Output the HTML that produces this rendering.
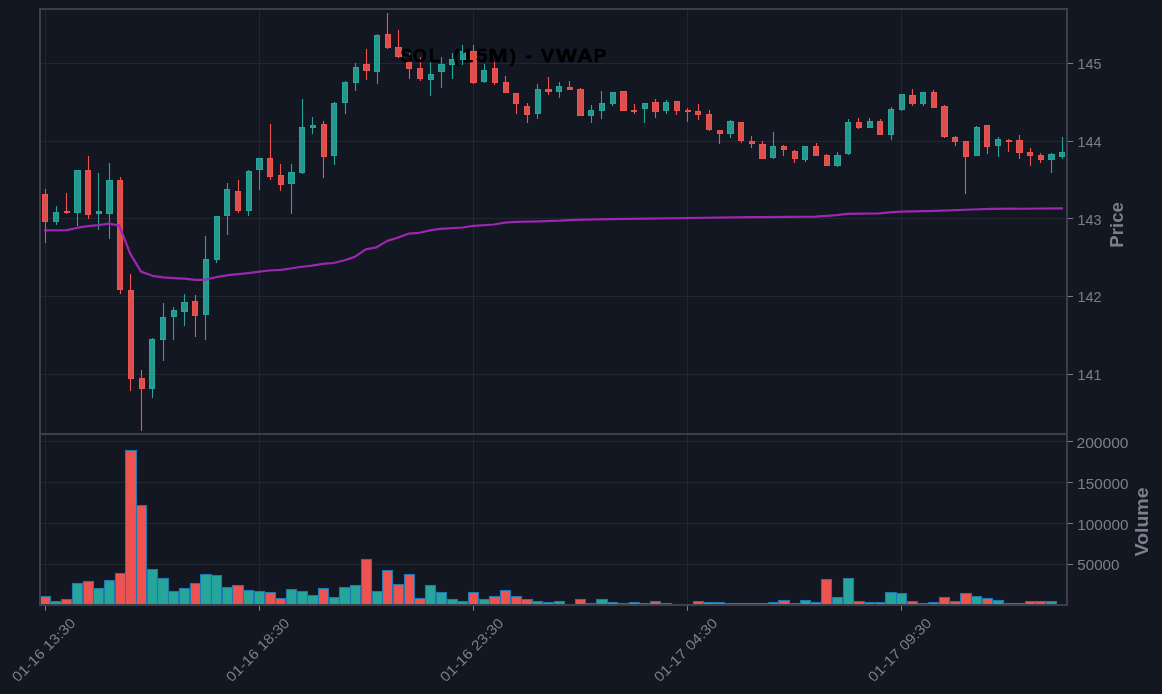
<!DOCTYPE html>
<html><head><meta charset="utf-8"><style>
html,body{margin:0;padding:0;background:#131722;width:1162px;height:694px;overflow:hidden;font-family:"Liberation Sans",sans-serif;}
svg{display:block}
</style></head><body>
<svg width="1162" height="694" viewBox="0 0 1162 694" style="will-change:transform"><rect x="0" y="0" width="1162" height="694" fill="#131722"/><path d="M45.5 10V433M45.5 435V604M259.5 10V433M259.5 435V604M473.5 10V433M473.5 435V604M687.5 10V433M687.5 435V604M901.5 10V433M901.5 435V604M41 63.5H1066M41 141.5H1066M41 218.5H1066M41 296.5H1066M41 374.5H1066M41 441.5H1066M41 482.5H1066M41 523.5H1066M41 564.5H1066" stroke="#22262f" stroke-width="1" fill="none"/><g><rect x="40.5" y="596.5" width="10" height="8.5" fill="#ef5350" stroke="#1f77b4" stroke-width="1.1"/><rect x="50.5" y="601.5" width="11" height="3.5" fill="#26a69a" stroke="#1f77b4" stroke-width="1.1"/><rect x="61.5" y="599.5" width="10" height="5.5" fill="#ef5350" stroke="#1f77b4" stroke-width="1.1"/><rect x="72.5" y="583.5" width="10" height="21.5" fill="#26a69a" stroke="#1f77b4" stroke-width="1.1"/><rect x="83.5" y="581.5" width="10" height="23.5" fill="#ef5350" stroke="#1f77b4" stroke-width="1.1"/><rect x="93.5" y="588.5" width="10" height="16.5" fill="#26a69a" stroke="#1f77b4" stroke-width="1.1"/><rect x="104.5" y="580.5" width="10" height="24.5" fill="#26a69a" stroke="#1f77b4" stroke-width="1.1"/><rect x="115.5" y="573.5" width="10" height="31.5" fill="#ef5350" stroke="#1f77b4" stroke-width="1.1"/><rect x="125.5" y="450.5" width="11" height="154.5" fill="#ef5350" stroke="#1f77b4" stroke-width="1.1"/><rect x="136.5" y="505.5" width="10" height="99.5" fill="#ef5350" stroke="#1f77b4" stroke-width="1.1"/><rect x="147.5" y="569.5" width="10" height="35.5" fill="#26a69a" stroke="#1f77b4" stroke-width="1.1"/><rect x="157.5" y="578.5" width="11" height="26.5" fill="#26a69a" stroke="#1f77b4" stroke-width="1.1"/><rect x="168.5" y="591.5" width="10" height="13.5" fill="#26a69a" stroke="#1f77b4" stroke-width="1.1"/><rect x="179.5" y="588.5" width="10" height="16.5" fill="#26a69a" stroke="#1f77b4" stroke-width="1.1"/><rect x="190.5" y="583.5" width="10" height="21.5" fill="#ef5350" stroke="#1f77b4" stroke-width="1.1"/><rect x="200.5" y="574.5" width="11" height="30.5" fill="#26a69a" stroke="#1f77b4" stroke-width="1.1"/><rect x="211.5" y="575.5" width="10" height="29.5" fill="#26a69a" stroke="#1f77b4" stroke-width="1.1"/><rect x="222.5" y="587.5" width="10" height="17.5" fill="#26a69a" stroke="#1f77b4" stroke-width="1.1"/><rect x="232.5" y="585.5" width="11" height="19.5" fill="#ef5350" stroke="#1f77b4" stroke-width="1.1"/><rect x="243.5" y="590.5" width="10" height="14.5" fill="#26a69a" stroke="#1f77b4" stroke-width="1.1"/><rect x="254.5" y="591.5" width="10" height="13.5" fill="#26a69a" stroke="#1f77b4" stroke-width="1.1"/><rect x="265.5" y="592.5" width="10" height="12.5" fill="#ef5350" stroke="#1f77b4" stroke-width="1.1"/><rect x="275.5" y="598.5" width="10" height="6.5" fill="#ef5350" stroke="#1f77b4" stroke-width="1.1"/><rect x="286.5" y="589.5" width="10" height="15.5" fill="#26a69a" stroke="#1f77b4" stroke-width="1.1"/><rect x="297.5" y="591.5" width="10" height="13.5" fill="#26a69a" stroke="#1f77b4" stroke-width="1.1"/><rect x="307.5" y="595.5" width="11" height="9.5" fill="#26a69a" stroke="#1f77b4" stroke-width="1.1"/><rect x="318.5" y="588.5" width="10" height="16.5" fill="#ef5350" stroke="#1f77b4" stroke-width="1.1"/><rect x="329.5" y="597.5" width="10" height="7.5" fill="#26a69a" stroke="#1f77b4" stroke-width="1.1"/><rect x="339.5" y="587.5" width="11" height="17.5" fill="#26a69a" stroke="#1f77b4" stroke-width="1.1"/><rect x="350.5" y="585.5" width="10" height="19.5" fill="#26a69a" stroke="#1f77b4" stroke-width="1.1"/><rect x="361.5" y="559.5" width="10" height="45.5" fill="#ef5350" stroke="#1f77b4" stroke-width="1.1"/><rect x="372.5" y="591.5" width="10" height="13.5" fill="#26a69a" stroke="#1f77b4" stroke-width="1.1"/><rect x="382.5" y="570.5" width="10" height="34.5" fill="#ef5350" stroke="#1f77b4" stroke-width="1.1"/><rect x="393.5" y="584.5" width="10" height="20.5" fill="#ef5350" stroke="#1f77b4" stroke-width="1.1"/><rect x="404.5" y="574.5" width="10" height="30.5" fill="#ef5350" stroke="#1f77b4" stroke-width="1.1"/><rect x="414.5" y="598.5" width="11" height="6.5" fill="#ef5350" stroke="#1f77b4" stroke-width="1.1"/><rect x="425.5" y="585.5" width="10" height="19.5" fill="#26a69a" stroke="#1f77b4" stroke-width="1.1"/><rect x="436.5" y="592.5" width="10" height="12.5" fill="#26a69a" stroke="#1f77b4" stroke-width="1.1"/><rect x="447.5" y="599.5" width="10" height="5.5" fill="#26a69a" stroke="#1f77b4" stroke-width="1.1"/><rect x="457.5" y="601.5" width="10" height="3.5" fill="#26a69a" stroke="#1f77b4" stroke-width="1.1"/><rect x="468.5" y="592.5" width="10" height="12.5" fill="#ef5350" stroke="#1f77b4" stroke-width="1.1"/><rect x="479.5" y="599.5" width="10" height="5.5" fill="#26a69a" stroke="#1f77b4" stroke-width="1.1"/><rect x="489.5" y="596.5" width="11" height="8.5" fill="#ef5350" stroke="#1f77b4" stroke-width="1.1"/><rect x="500.5" y="590.5" width="10" height="14.5" fill="#ef5350" stroke="#1f77b4" stroke-width="1.1"/><rect x="511.5" y="596.5" width="10" height="8.5" fill="#ef5350" stroke="#1f77b4" stroke-width="1.1"/><rect x="521.5" y="599.5" width="11" height="5.5" fill="#ef5350" stroke="#1f77b4" stroke-width="1.1"/><rect x="532.5" y="601.5" width="10" height="3.5" fill="#26a69a" stroke="#1f77b4" stroke-width="1.1"/><rect x="543.5" y="602.5" width="10" height="2.5" fill="#ef5350" stroke="#1f77b4" stroke-width="1.1"/><rect x="554.5" y="601.5" width="10" height="3.5" fill="#26a69a" stroke="#1f77b4" stroke-width="1.1"/><rect x="564.5" y="604.5" width="10" height="0.5" fill="#ef5350" stroke="#1f77b4" stroke-width="1.1"/><rect x="575.5" y="599.5" width="10" height="5.5" fill="#ef5350" stroke="#1f77b4" stroke-width="1.1"/><rect x="586.5" y="603.5" width="10" height="1.5" fill="#26a69a" stroke="#1f77b4" stroke-width="1.1"/><rect x="596.5" y="599.5" width="11" height="5.5" fill="#26a69a" stroke="#1f77b4" stroke-width="1.1"/><rect x="607.5" y="602.5" width="10" height="2.5" fill="#26a69a" stroke="#1f77b4" stroke-width="1.1"/><rect x="618.5" y="603.5" width="10" height="1.5" fill="#ef5350" stroke="#1f77b4" stroke-width="1.1"/><rect x="629.5" y="602.5" width="10" height="2.5" fill="#ef5350" stroke="#1f77b4" stroke-width="1.1"/><rect x="639.5" y="603.5" width="10" height="1.5" fill="#26a69a" stroke="#1f77b4" stroke-width="1.1"/><rect x="650.5" y="601.5" width="10" height="3.5" fill="#ef5350" stroke="#1f77b4" stroke-width="1.1"/><rect x="661.5" y="603.5" width="10" height="1.5" fill="#26a69a" stroke="#1f77b4" stroke-width="1.1"/><rect x="671.5" y="604.5" width="11" height="0.5" fill="#ef5350" stroke="#1f77b4" stroke-width="1.1"/><rect x="682.5" y="604.5" width="10" height="0.5" fill="#ef5350" stroke="#1f77b4" stroke-width="1.1"/><rect x="693.5" y="601.5" width="10" height="3.5" fill="#ef5350" stroke="#1f77b4" stroke-width="1.1"/><rect x="703.5" y="602.5" width="11" height="2.5" fill="#ef5350" stroke="#1f77b4" stroke-width="1.1"/><rect x="714.5" y="602.5" width="10" height="2.5" fill="#ef5350" stroke="#1f77b4" stroke-width="1.1"/><rect x="725.5" y="603.5" width="10" height="1.5" fill="#26a69a" stroke="#1f77b4" stroke-width="1.1"/><rect x="736.5" y="603.5" width="10" height="1.5" fill="#ef5350" stroke="#1f77b4" stroke-width="1.1"/><rect x="746.5" y="603.5" width="10" height="1.5" fill="#ef5350" stroke="#1f77b4" stroke-width="1.1"/><rect x="757.5" y="603.5" width="10" height="1.5" fill="#ef5350" stroke="#1f77b4" stroke-width="1.1"/><rect x="768.5" y="602.5" width="10" height="2.5" fill="#26a69a" stroke="#1f77b4" stroke-width="1.1"/><rect x="778.5" y="600.5" width="11" height="4.5" fill="#ef5350" stroke="#1f77b4" stroke-width="1.1"/><rect x="789.5" y="603.5" width="10" height="1.5" fill="#ef5350" stroke="#1f77b4" stroke-width="1.1"/><rect x="800.5" y="600.5" width="10" height="4.5" fill="#26a69a" stroke="#1f77b4" stroke-width="1.1"/><rect x="810.5" y="602.5" width="11" height="2.5" fill="#ef5350" stroke="#1f77b4" stroke-width="1.1"/><rect x="821.5" y="579.5" width="10" height="25.5" fill="#ef5350" stroke="#1f77b4" stroke-width="1.1"/><rect x="832.5" y="597.5" width="10" height="7.5" fill="#26a69a" stroke="#1f77b4" stroke-width="1.1"/><rect x="843.5" y="578.5" width="10" height="26.5" fill="#26a69a" stroke="#1f77b4" stroke-width="1.1"/><rect x="853.5" y="601.5" width="11" height="3.5" fill="#ef5350" stroke="#1f77b4" stroke-width="1.1"/><rect x="864.5" y="602.5" width="10" height="2.5" fill="#26a69a" stroke="#1f77b4" stroke-width="1.1"/><rect x="875.5" y="602.5" width="10" height="2.5" fill="#ef5350" stroke="#1f77b4" stroke-width="1.1"/><rect x="885.5" y="592.5" width="11" height="12.5" fill="#26a69a" stroke="#1f77b4" stroke-width="1.1"/><rect x="896.5" y="593.5" width="10" height="11.5" fill="#26a69a" stroke="#1f77b4" stroke-width="1.1"/><rect x="907.5" y="601.5" width="10" height="3.5" fill="#ef5350" stroke="#1f77b4" stroke-width="1.1"/><rect x="918.5" y="603.5" width="10" height="1.5" fill="#26a69a" stroke="#1f77b4" stroke-width="1.1"/><rect x="928.5" y="602.5" width="10" height="2.5" fill="#ef5350" stroke="#1f77b4" stroke-width="1.1"/><rect x="939.5" y="597.5" width="10" height="7.5" fill="#ef5350" stroke="#1f77b4" stroke-width="1.1"/><rect x="950.5" y="601.5" width="10" height="3.5" fill="#ef5350" stroke="#1f77b4" stroke-width="1.1"/><rect x="960.5" y="593.5" width="11" height="11.5" fill="#ef5350" stroke="#1f77b4" stroke-width="1.1"/><rect x="971.5" y="596.5" width="10" height="8.5" fill="#26a69a" stroke="#1f77b4" stroke-width="1.1"/><rect x="982.5" y="598.5" width="10" height="6.5" fill="#ef5350" stroke="#1f77b4" stroke-width="1.1"/><rect x="992.5" y="600.5" width="11" height="4.5" fill="#26a69a" stroke="#1f77b4" stroke-width="1.1"/><rect x="1003.5" y="603.5" width="10" height="1.5" fill="#ef5350" stroke="#1f77b4" stroke-width="1.1"/><rect x="1014.5" y="603.5" width="10" height="1.5" fill="#ef5350" stroke="#1f77b4" stroke-width="1.1"/><rect x="1025.5" y="601.5" width="10" height="3.5" fill="#ef5350" stroke="#1f77b4" stroke-width="1.1"/><rect x="1035.5" y="601.5" width="10" height="3.5" fill="#ef5350" stroke="#1f77b4" stroke-width="1.1"/><rect x="1046.5" y="601.5" width="10" height="3.5" fill="#26a69a" stroke="#1f77b4" stroke-width="1.1"/></g><g><path d="M45.5 189V243" stroke="#ef5350" stroke-width="1.1"/><rect x="42.5" y="194.5" width="5" height="27" fill="#dc4f4d" stroke="#ef5350" stroke-width="1"/><path d="M56.5 206V225" stroke="#26a69a" stroke-width="1.1"/><rect x="53.5" y="212.5" width="5" height="9" fill="#24988e" stroke="#26a69a" stroke-width="1"/><path d="M66.5 193V214" stroke="#ef5350" stroke-width="1.1"/><rect x="64.5" y="211.5" width="5" height="1" fill="#dc4f4d" stroke="#ef5350" stroke-width="1"/><path d="M77.5 170V226" stroke="#26a69a" stroke-width="1.1"/><rect x="74.5" y="170.5" width="6" height="42" fill="#24988e" stroke="#26a69a" stroke-width="1"/><path d="M88.5 156V219" stroke="#ef5350" stroke-width="1.1"/><rect x="85.5" y="170.5" width="5" height="44" fill="#dc4f4d" stroke="#ef5350" stroke-width="1"/><path d="M98.5 173V230" stroke="#26a69a" stroke-width="1.1"/><rect x="96.5" y="211.5" width="5" height="2" fill="#24988e" stroke="#26a69a" stroke-width="1"/><path d="M109.5 163V239" stroke="#26a69a" stroke-width="1.1"/><rect x="106.5" y="180.5" width="6" height="33" fill="#24988e" stroke="#26a69a" stroke-width="1"/><path d="M120.5 177V294" stroke="#ef5350" stroke-width="1.1"/><rect x="117.5" y="180.5" width="5" height="109" fill="#dc4f4d" stroke="#ef5350" stroke-width="1"/><path d="M130.5 274V391" stroke="#ef5350" stroke-width="1.1"/><rect x="128.5" y="290.5" width="5" height="88" fill="#dc4f4d" stroke="#ef5350" stroke-width="1"/><path d="M141.5 370V431" stroke="#ef5350" stroke-width="1.1"/><rect x="139.5" y="378.5" width="5" height="10" fill="#dc4f4d" stroke="#ef5350" stroke-width="1"/><path d="M152.5 338V398" stroke="#26a69a" stroke-width="1.1"/><rect x="149.5" y="339.5" width="5" height="49" fill="#24988e" stroke="#26a69a" stroke-width="1"/><path d="M163.5 303V361" stroke="#26a69a" stroke-width="1.1"/><rect x="160.5" y="317.5" width="5" height="22" fill="#24988e" stroke="#26a69a" stroke-width="1"/><path d="M173.5 307V340" stroke="#26a69a" stroke-width="1.1"/><rect x="171.5" y="310.5" width="5" height="6" fill="#24988e" stroke="#26a69a" stroke-width="1"/><path d="M184.5 294V326" stroke="#26a69a" stroke-width="1.1"/><rect x="181.5" y="302.5" width="6" height="9" fill="#24988e" stroke="#26a69a" stroke-width="1"/><path d="M195.5 295V337" stroke="#ef5350" stroke-width="1.1"/><rect x="192.5" y="301.5" width="5" height="14" fill="#dc4f4d" stroke="#ef5350" stroke-width="1"/><path d="M205.5 236V340" stroke="#26a69a" stroke-width="1.1"/><rect x="203.5" y="259.5" width="5" height="55" fill="#24988e" stroke="#26a69a" stroke-width="1"/><path d="M216.5 216V263" stroke="#26a69a" stroke-width="1.1"/><rect x="214.5" y="216.5" width="5" height="43" fill="#24988e" stroke="#26a69a" stroke-width="1"/><path d="M227.5 183V235" stroke="#26a69a" stroke-width="1.1"/><rect x="224.5" y="189.5" width="5" height="26" fill="#24988e" stroke="#26a69a" stroke-width="1"/><path d="M238.5 180V213" stroke="#ef5350" stroke-width="1.1"/><rect x="235.5" y="191.5" width="5" height="19" fill="#dc4f4d" stroke="#ef5350" stroke-width="1"/><path d="M248.5 170V216" stroke="#26a69a" stroke-width="1.1"/><rect x="246.5" y="171.5" width="5" height="39" fill="#24988e" stroke="#26a69a" stroke-width="1"/><path d="M259.5 158V190" stroke="#26a69a" stroke-width="1.1"/><rect x="256.5" y="158.5" width="6" height="11" fill="#24988e" stroke="#26a69a" stroke-width="1"/><path d="M270.5 124V180" stroke="#ef5350" stroke-width="1.1"/><rect x="267.5" y="158.5" width="5" height="18" fill="#dc4f4d" stroke="#ef5350" stroke-width="1"/><path d="M280.5 164V191" stroke="#ef5350" stroke-width="1.1"/><rect x="278.5" y="175.5" width="5" height="9" fill="#dc4f4d" stroke="#ef5350" stroke-width="1"/><path d="M291.5 164V214" stroke="#26a69a" stroke-width="1.1"/><rect x="288.5" y="172.5" width="6" height="11" fill="#24988e" stroke="#26a69a" stroke-width="1"/><path d="M302.5 99V174" stroke="#26a69a" stroke-width="1.1"/><rect x="299.5" y="127.5" width="5" height="45" fill="#24988e" stroke="#26a69a" stroke-width="1"/><path d="M312.5 117V134" stroke="#26a69a" stroke-width="1.1"/><rect x="310.5" y="125.5" width="5" height="2" fill="#24988e" stroke="#26a69a" stroke-width="1"/><path d="M323.5 121V178" stroke="#ef5350" stroke-width="1.1"/><rect x="321.5" y="124.5" width="5" height="32" fill="#dc4f4d" stroke="#ef5350" stroke-width="1"/><path d="M334.5 102V165" stroke="#26a69a" stroke-width="1.1"/><rect x="331.5" y="103.5" width="5" height="52" fill="#24988e" stroke="#26a69a" stroke-width="1"/><path d="M345.5 81V114" stroke="#26a69a" stroke-width="1.1"/><rect x="342.5" y="82.5" width="5" height="20" fill="#24988e" stroke="#26a69a" stroke-width="1"/><path d="M355.5 63V91" stroke="#26a69a" stroke-width="1.1"/><rect x="353.5" y="67.5" width="5" height="15" fill="#24988e" stroke="#26a69a" stroke-width="1"/><path d="M366.5 49V80" stroke="#ef5350" stroke-width="1.1"/><rect x="363.5" y="64.5" width="6" height="6" fill="#dc4f4d" stroke="#ef5350" stroke-width="1"/><path d="M377.5 34V84" stroke="#26a69a" stroke-width="1.1"/><rect x="374.5" y="35.5" width="5" height="36" fill="#24988e" stroke="#26a69a" stroke-width="1"/><path d="M387.5 13V49" stroke="#ef5350" stroke-width="1.1"/><rect x="385.5" y="34.5" width="5" height="13" fill="#dc4f4d" stroke="#ef5350" stroke-width="1"/><path d="M398.5 30V58" stroke="#ef5350" stroke-width="1.1"/><rect x="395.5" y="47.5" width="6" height="9" fill="#dc4f4d" stroke="#ef5350" stroke-width="1"/><path d="M409.5 51V79" stroke="#ef5350" stroke-width="1.1"/><rect x="406.5" y="62.5" width="5" height="6" fill="#dc4f4d" stroke="#ef5350" stroke-width="1"/><path d="M420.5 57V81" stroke="#ef5350" stroke-width="1.1"/><rect x="417.5" y="68.5" width="5" height="10" fill="#dc4f4d" stroke="#ef5350" stroke-width="1"/><path d="M430.5 62V96" stroke="#26a69a" stroke-width="1.1"/><rect x="428.5" y="74.5" width="5" height="5" fill="#24988e" stroke="#26a69a" stroke-width="1"/><path d="M441.5 57V88" stroke="#26a69a" stroke-width="1.1"/><rect x="438.5" y="64.5" width="6" height="7" fill="#24988e" stroke="#26a69a" stroke-width="1"/><path d="M452.5 53V79" stroke="#26a69a" stroke-width="1.1"/><rect x="449.5" y="59.5" width="5" height="5" fill="#24988e" stroke="#26a69a" stroke-width="1"/><path d="M462.5 45V65" stroke="#26a69a" stroke-width="1.1"/><rect x="460.5" y="51.5" width="5" height="8" fill="#24988e" stroke="#26a69a" stroke-width="1"/><path d="M473.5 45V84" stroke="#ef5350" stroke-width="1.1"/><rect x="470.5" y="51.5" width="6" height="31" fill="#dc4f4d" stroke="#ef5350" stroke-width="1"/><path d="M484.5 64V83" stroke="#26a69a" stroke-width="1.1"/><rect x="481.5" y="70.5" width="5" height="11" fill="#24988e" stroke="#26a69a" stroke-width="1"/><path d="M494.5 62V85" stroke="#ef5350" stroke-width="1.1"/><rect x="492.5" y="68.5" width="5" height="14" fill="#dc4f4d" stroke="#ef5350" stroke-width="1"/><path d="M505.5 76V93" stroke="#ef5350" stroke-width="1.1"/><rect x="503.5" y="82.5" width="5" height="10" fill="#dc4f4d" stroke="#ef5350" stroke-width="1"/><path d="M516.5 93V114" stroke="#ef5350" stroke-width="1.1"/><rect x="513.5" y="93.5" width="5" height="10" fill="#dc4f4d" stroke="#ef5350" stroke-width="1"/><path d="M527.5 103V123" stroke="#ef5350" stroke-width="1.1"/><rect x="524.5" y="106.5" width="5" height="8" fill="#dc4f4d" stroke="#ef5350" stroke-width="1"/><path d="M537.5 84V119" stroke="#26a69a" stroke-width="1.1"/><rect x="535.5" y="89.5" width="5" height="24" fill="#24988e" stroke="#26a69a" stroke-width="1"/><path d="M548.5 77V95" stroke="#ef5350" stroke-width="1.1"/><rect x="545.5" y="89.5" width="6" height="2" fill="#dc4f4d" stroke="#ef5350" stroke-width="1"/><path d="M559.5 82V98" stroke="#26a69a" stroke-width="1.1"/><rect x="556.5" y="86.5" width="5" height="5" fill="#24988e" stroke="#26a69a" stroke-width="1"/><path d="M569.5 81V90" stroke="#ef5350" stroke-width="1.1"/><rect x="567.5" y="87.5" width="5" height="2" fill="#dc4f4d" stroke="#ef5350" stroke-width="1"/><path d="M580.5 88V116" stroke="#ef5350" stroke-width="1.1"/><rect x="577.5" y="89.5" width="6" height="26" fill="#dc4f4d" stroke="#ef5350" stroke-width="1"/><path d="M591.5 105V123" stroke="#26a69a" stroke-width="1.1"/><rect x="588.5" y="110.5" width="5" height="5" fill="#24988e" stroke="#26a69a" stroke-width="1"/><path d="M601.5 91V119" stroke="#26a69a" stroke-width="1.1"/><rect x="599.5" y="103.5" width="5" height="7" fill="#24988e" stroke="#26a69a" stroke-width="1"/><path d="M612.5 92V106" stroke="#26a69a" stroke-width="1.1"/><rect x="610.5" y="92.5" width="5" height="11" fill="#24988e" stroke="#26a69a" stroke-width="1"/><path d="M623.5 91V111" stroke="#ef5350" stroke-width="1.1"/><rect x="620.5" y="91.5" width="6" height="19" fill="#dc4f4d" stroke="#ef5350" stroke-width="1"/><path d="M634.5 104V114" stroke="#ef5350" stroke-width="1.1"/><rect x="631.5" y="110.5" width="5" height="1" fill="#dc4f4d" stroke="#ef5350" stroke-width="1"/><path d="M644.5 103V123" stroke="#26a69a" stroke-width="1.1"/><rect x="642.5" y="103.5" width="5" height="5" fill="#24988e" stroke="#26a69a" stroke-width="1"/><path d="M655.5 99V118" stroke="#ef5350" stroke-width="1.1"/><rect x="652.5" y="102.5" width="6" height="9" fill="#dc4f4d" stroke="#ef5350" stroke-width="1"/><path d="M666.5 100V114" stroke="#26a69a" stroke-width="1.1"/><rect x="663.5" y="102.5" width="5" height="8" fill="#24988e" stroke="#26a69a" stroke-width="1"/><path d="M676.5 101V115" stroke="#ef5350" stroke-width="1.1"/><rect x="674.5" y="101.5" width="5" height="9" fill="#dc4f4d" stroke="#ef5350" stroke-width="1"/><path d="M687.5 108V122" stroke="#ef5350" stroke-width="1.1"/><rect x="685.5" y="110.5" width="5" height="1" fill="#dc4f4d" stroke="#ef5350" stroke-width="1"/><path d="M698.5 104V120" stroke="#ef5350" stroke-width="1.1"/><rect x="695.5" y="111.5" width="5" height="3" fill="#dc4f4d" stroke="#ef5350" stroke-width="1"/><path d="M709.5 110V131" stroke="#ef5350" stroke-width="1.1"/><rect x="706.5" y="114.5" width="5" height="15" fill="#dc4f4d" stroke="#ef5350" stroke-width="1"/><path d="M719.5 130V144" stroke="#ef5350" stroke-width="1.1"/><rect x="717.5" y="130.5" width="5" height="3" fill="#dc4f4d" stroke="#ef5350" stroke-width="1"/><path d="M730.5 120V138" stroke="#26a69a" stroke-width="1.1"/><rect x="727.5" y="121.5" width="6" height="12" fill="#24988e" stroke="#26a69a" stroke-width="1"/><path d="M741.5 122V143" stroke="#ef5350" stroke-width="1.1"/><rect x="738.5" y="122.5" width="5" height="18" fill="#dc4f4d" stroke="#ef5350" stroke-width="1"/><path d="M751.5 136V148" stroke="#ef5350" stroke-width="1.1"/><rect x="749.5" y="141.5" width="5" height="2" fill="#dc4f4d" stroke="#ef5350" stroke-width="1"/><path d="M762.5 141V159" stroke="#ef5350" stroke-width="1.1"/><rect x="759.5" y="144.5" width="6" height="14" fill="#dc4f4d" stroke="#ef5350" stroke-width="1"/><path d="M773.5 132V159" stroke="#26a69a" stroke-width="1.1"/><rect x="770.5" y="146.5" width="5" height="11" fill="#24988e" stroke="#26a69a" stroke-width="1"/><path d="M783.5 145V156" stroke="#ef5350" stroke-width="1.1"/><rect x="781.5" y="146.5" width="5" height="3" fill="#dc4f4d" stroke="#ef5350" stroke-width="1"/><path d="M794.5 150V163" stroke="#ef5350" stroke-width="1.1"/><rect x="792.5" y="151.5" width="5" height="7" fill="#dc4f4d" stroke="#ef5350" stroke-width="1"/><path d="M805.5 146V162" stroke="#26a69a" stroke-width="1.1"/><rect x="802.5" y="146.5" width="5" height="13" fill="#24988e" stroke="#26a69a" stroke-width="1"/><path d="M816.5 143V156" stroke="#ef5350" stroke-width="1.1"/><rect x="813.5" y="146.5" width="5" height="9" fill="#dc4f4d" stroke="#ef5350" stroke-width="1"/><path d="M826.5 154V166" stroke="#ef5350" stroke-width="1.1"/><rect x="824.5" y="155.5" width="5" height="10" fill="#dc4f4d" stroke="#ef5350" stroke-width="1"/><path d="M837.5 152V167" stroke="#26a69a" stroke-width="1.1"/><rect x="834.5" y="155.5" width="6" height="10" fill="#24988e" stroke="#26a69a" stroke-width="1"/><path d="M848.5 119V155" stroke="#26a69a" stroke-width="1.1"/><rect x="845.5" y="122.5" width="5" height="31" fill="#24988e" stroke="#26a69a" stroke-width="1"/><path d="M858.5 118V129" stroke="#ef5350" stroke-width="1.1"/><rect x="856.5" y="122.5" width="5" height="5" fill="#dc4f4d" stroke="#ef5350" stroke-width="1"/><path d="M869.5 118V128" stroke="#26a69a" stroke-width="1.1"/><rect x="867.5" y="121.5" width="5" height="6" fill="#24988e" stroke="#26a69a" stroke-width="1"/><path d="M880.5 119V135" stroke="#ef5350" stroke-width="1.1"/><rect x="877.5" y="121.5" width="5" height="13" fill="#dc4f4d" stroke="#ef5350" stroke-width="1"/><path d="M891.5 107V140" stroke="#26a69a" stroke-width="1.1"/><rect x="888.5" y="109.5" width="5" height="25" fill="#24988e" stroke="#26a69a" stroke-width="1"/><path d="M901.5 94V111" stroke="#26a69a" stroke-width="1.1"/><rect x="899.5" y="94.5" width="5" height="15" fill="#24988e" stroke="#26a69a" stroke-width="1"/><path d="M912.5 89V106" stroke="#ef5350" stroke-width="1.1"/><rect x="909.5" y="95.5" width="6" height="8" fill="#dc4f4d" stroke="#ef5350" stroke-width="1"/><path d="M923.5 92V106" stroke="#26a69a" stroke-width="1.1"/><rect x="920.5" y="92.5" width="5" height="11" fill="#24988e" stroke="#26a69a" stroke-width="1"/><path d="M933.5 90V108" stroke="#ef5350" stroke-width="1.1"/><rect x="931.5" y="92.5" width="5" height="15" fill="#dc4f4d" stroke="#ef5350" stroke-width="1"/><path d="M944.5 105V138" stroke="#ef5350" stroke-width="1.1"/><rect x="941.5" y="106.5" width="6" height="30" fill="#dc4f4d" stroke="#ef5350" stroke-width="1"/><path d="M955.5 136V146" stroke="#ef5350" stroke-width="1.1"/><rect x="952.5" y="137.5" width="5" height="4" fill="#dc4f4d" stroke="#ef5350" stroke-width="1"/><path d="M965.5 141V194" stroke="#ef5350" stroke-width="1.1"/><rect x="963.5" y="141.5" width="5" height="15" fill="#dc4f4d" stroke="#ef5350" stroke-width="1"/><path d="M976.5 126V156" stroke="#26a69a" stroke-width="1.1"/><rect x="974.5" y="127.5" width="5" height="28" fill="#24988e" stroke="#26a69a" stroke-width="1"/><path d="M987.5 125V154" stroke="#ef5350" stroke-width="1.1"/><rect x="984.5" y="125.5" width="5" height="21" fill="#dc4f4d" stroke="#ef5350" stroke-width="1"/><path d="M998.5 137V157" stroke="#26a69a" stroke-width="1.1"/><rect x="995.5" y="139.5" width="5" height="6" fill="#24988e" stroke="#26a69a" stroke-width="1"/><path d="M1008.5 139V152" stroke="#ef5350" stroke-width="1.1"/><rect x="1006.5" y="140.5" width="5" height="1" fill="#dc4f4d" stroke="#ef5350" stroke-width="1"/><path d="M1019.5 135V159" stroke="#ef5350" stroke-width="1.1"/><rect x="1016.5" y="140.5" width="6" height="12" fill="#dc4f4d" stroke="#ef5350" stroke-width="1"/><path d="M1030.5 148V166" stroke="#ef5350" stroke-width="1.1"/><rect x="1027.5" y="152.5" width="5" height="3" fill="#dc4f4d" stroke="#ef5350" stroke-width="1"/><path d="M1040.5 153V163" stroke="#ef5350" stroke-width="1.1"/><rect x="1038.5" y="155.5" width="5" height="4" fill="#dc4f4d" stroke="#ef5350" stroke-width="1"/><path d="M1051.5 153V173" stroke="#26a69a" stroke-width="1.1"/><rect x="1048.5" y="154.5" width="6" height="5" fill="#24988e" stroke="#26a69a" stroke-width="1"/><path d="M1062.5 137V159" stroke="#26a69a" stroke-width="1.1"/><rect x="1059.5" y="152.5" width="5" height="4" fill="#24988e" stroke="#26a69a" stroke-width="1"/></g><polyline points="44.0,230.4 66.9,230.1 77.8,227.7 88,226.1 98.2,225.2 109.1,223.7 119.3,225.6 130.2,253.6 141,271.6 152.5,275.8 163.3,277.4 178,278.3 184.5,278.6 195.3,279.8 204.9,279.8 215.8,277.2 230.2,274.8 243.5,273.6 259.2,271.7 268.8,270.5 280.8,269.9 290.5,268.5 300,267 312,265.6 322.9,263.8 333.7,263 344.6,260.2 354.8,256.9 365.7,249.3 376.5,247.3 387.3,240.9 397.6,237.7 408.4,233.7 419.3,232.8 430.1,230.4 439.6,228.9 462.5,227.5 473.4,225.9 493.9,224.5 504.7,222.7 515.5,221.9 538.4,221.3 560,220.7 575.7,219.9 608.2,219.2 644.3,218.7 687.7,218 750.2,217.2 815.3,216.6 836.9,215.2 847.1,213.9 879,213.3 889.9,212.3 901.9,211.6 935.7,210.8 972.7,209.5 991.3,208.9 1063,208.4" fill="none" stroke="#9c27b0" stroke-width="2.2" stroke-linejoin="round"/><path d="M40 9H1067V605H40Z M40 434H1067" stroke="#3b3f4a" stroke-width="2" fill="none"/><path d="M1068 63.5H1073M1068 141.5H1073M1068 218.5H1073M1068 296.5H1073M1068 374.5H1073M1068 441.5H1073M1068 482.5H1073M1068 523.5H1073M1068 564.5H1073M45.5 606V610.8M259.5 606V610.8M473.5 606V610.8M687.5 606V610.8M901.5 606V610.8" stroke="#7c7f8a" stroke-width="1" fill="none"/><text x="1077.5" y="69.1" font-family="'Liberation Sans', sans-serif" font-size="14.2" fill="#7c7f8a" textLength="24" lengthAdjust="spacingAndGlyphs">145</text><text x="1077.5" y="147.1" font-family="'Liberation Sans', sans-serif" font-size="14.2" fill="#7c7f8a" textLength="24" lengthAdjust="spacingAndGlyphs">144</text><text x="1077.5" y="225.1" font-family="'Liberation Sans', sans-serif" font-size="14.2" fill="#7c7f8a" textLength="24" lengthAdjust="spacingAndGlyphs">143</text><text x="1077.5" y="302.1" font-family="'Liberation Sans', sans-serif" font-size="14.2" fill="#7c7f8a" textLength="24" lengthAdjust="spacingAndGlyphs">142</text><text x="1077.5" y="380.1" font-family="'Liberation Sans', sans-serif" font-size="14.2" fill="#7c7f8a" textLength="24" lengthAdjust="spacingAndGlyphs">141</text><text x="1076.5" y="448.1" font-family="'Liberation Sans', sans-serif" font-size="14.2" fill="#7c7f8a" textLength="52" lengthAdjust="spacingAndGlyphs">200000</text><text x="1077.3" y="489.1" font-family="'Liberation Sans', sans-serif" font-size="14.2" fill="#7c7f8a" textLength="51.2" lengthAdjust="spacingAndGlyphs">150000</text><text x="1077.3" y="530.1" font-family="'Liberation Sans', sans-serif" font-size="14.2" fill="#7c7f8a" textLength="51.2" lengthAdjust="spacingAndGlyphs">100000</text><text x="1077.3" y="570.1" font-family="'Liberation Sans', sans-serif" font-size="14.2" fill="#7c7f8a" textLength="42.2" lengthAdjust="spacingAndGlyphs">50000</text><text transform="translate(1123 224.9) rotate(-90)" text-anchor="middle" font-family="'Liberation Sans', sans-serif" font-size="18" font-weight="bold" fill="#7c7f8a" textLength="45.5" lengthAdjust="spacingAndGlyphs">Price</text><text transform="translate(1148.3 522) rotate(-90)" text-anchor="middle" font-family="'Liberation Sans', sans-serif" font-size="18" font-weight="bold" fill="#7c7f8a" textLength="69" lengthAdjust="spacingAndGlyphs">Volume</text><text transform="translate(43.6 649.9) rotate(-45)" text-anchor="middle" font-family="'Liberation Sans', sans-serif" font-size="14.2" fill="#7c7f8a" dominant-baseline="central" textLength="83" lengthAdjust="spacingAndGlyphs">01-16 13:30</text><text transform="translate(257.6 649.9) rotate(-45)" text-anchor="middle" font-family="'Liberation Sans', sans-serif" font-size="14.2" fill="#7c7f8a" dominant-baseline="central" textLength="83" lengthAdjust="spacingAndGlyphs">01-16 18:30</text><text transform="translate(471.6 649.9) rotate(-45)" text-anchor="middle" font-family="'Liberation Sans', sans-serif" font-size="14.2" fill="#7c7f8a" dominant-baseline="central" textLength="83" lengthAdjust="spacingAndGlyphs">01-16 23:30</text><text transform="translate(685.6 649.9) rotate(-45)" text-anchor="middle" font-family="'Liberation Sans', sans-serif" font-size="14.2" fill="#7c7f8a" dominant-baseline="central" textLength="83" lengthAdjust="spacingAndGlyphs">01-17 04:30</text><text transform="translate(899.6 649.9) rotate(-45)" text-anchor="middle" font-family="'Liberation Sans', sans-serif" font-size="14.2" fill="#7c7f8a" dominant-baseline="central" textLength="83" lengthAdjust="spacingAndGlyphs">01-17 09:30</text><g font-family="'Liberation Sans', sans-serif" font-size="19.1" font-weight="bold" fill="#000" stroke="#000" stroke-width="0.45" text-anchor="middle"><text transform="translate(406.5 61.9) scale(0.95 1)">S</text><text transform="translate(419.8 61.9) scale(0.94 1)">O</text><text transform="translate(434.45 61.9) scale(0.95 1)">L</text><text transform="translate(456.2 61.9) scale(0.95 1)">(</text><text transform="translate(467.5 61.9) scale(1.05 1)">1</text><text transform="translate(481.7 61.9) scale(1.08 1)">5</text><text transform="translate(497.9 61.9) scale(1.22 1)">M</text><text transform="translate(513 61.9) scale(0.92 1)">)</text><text transform="translate(528.65 61.9) scale(1.0 1)">-</text><text transform="translate(547.5 61.9) scale(1.07 1)">V</text><text transform="translate(566.5 61.9) scale(1.16 1)">W</text><text transform="translate(584.9 61.9) scale(1.12 1)">A</text><text transform="translate(600.05 61.9) scale(0.975 1)">P</text></g></svg>
</body></html>
